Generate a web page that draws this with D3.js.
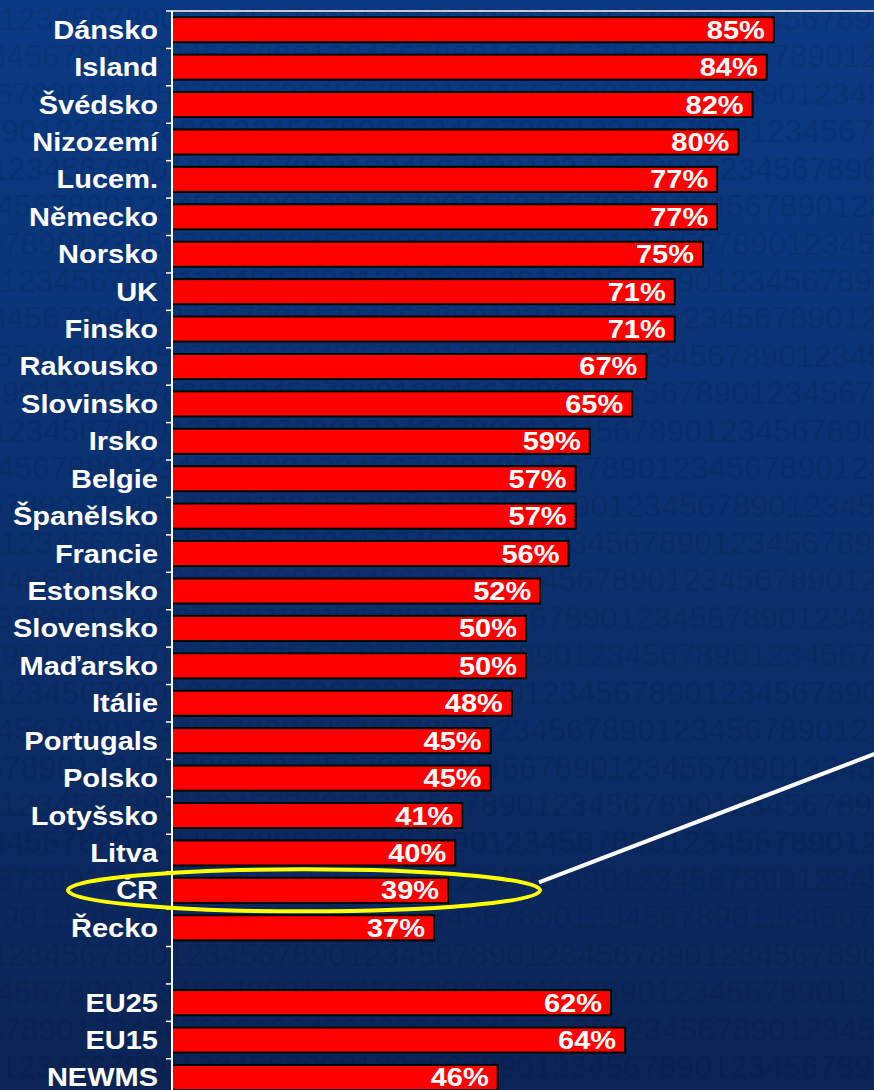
<!DOCTYPE html>
<html>
<head>
<meta charset="utf-8">
<script src="https://cdn.jsdelivr.net/npm/d3@7"></script>
<style>
  html, body { margin: 0; padding: 0; background: #0b2a66; }
  svg { display: block; }
</style>
</head>
<body>
<div id="chart"></div>
<script>
// data
const countries = ['Dánsko', 'Island', 'Švédsko', 'Nizozemí', 'Lucem.', 'Německo', 'Norsko', 'UK',
  'Finsko', 'Rakousko', 'Slovinsko', 'Irsko', 'Belgie', 'Španělsko', 'Francie', 'Estonsko',
  'Slovensko', 'Maďarsko', 'Itálie', 'Portugals', 'Polsko', 'Lotyšsko', 'Litva', 'ČR', 'Řecko'];
const countryValues = [85, 84, 82, 80, 77, 77, 75, 71, 71, 67, 65, 59, 57, 57, 56, 52, 50, 50, 48, 45, 45, 41, 40, 39, 37];
const groups = ['EU25', 'EU15', 'NEWMS'];
const groupValues = [62, 64, 46];
const highlighted = 'ČR';

const width = 874, height = 1090;
const margin = {top: 11, left: 172};
const rowStep = 37.42;
const stretch = 1.16; // the slide text is a bit wider than normal Arial

const rows = countries.concat(['']).concat(groups);
const data = countries.map((c, i) => ({name: c, value: countryValues[i]}))
  .concat(groups.map((g, i) => ({name: g, value: groupValues[i]})));

const svg = d3.select('#chart').append('svg')
  .attr('width', width)
  .attr('height', height);

// background gradient
const defs = svg.append('defs');
const grad = defs.append('linearGradient')
  .attr('id', 'bg')
  .attr('x1', 0).attr('y1', 0).attr('x2', 0).attr('y2', 1);
grad.append('stop').attr('offset', '0%').attr('stop-color', '#0a3a84');
grad.append('stop').attr('offset', '55%').attr('stop-color', '#0b2f6c');
grad.append('stop').attr('offset', '100%').attr('stop-color', '#0b2456');
svg.append('rect')
  .attr('width', width).attr('height', height)
  .attr('fill', 'url(#bg)');

// faint digit watermark, as a tiled pattern
const tileW = 178, tileRows = 7;
const pat = defs.append('pattern')
  .attr('id', 'digits')
  .attr('patternUnits', 'userSpaceOnUse')
  .attr('width', tileW)
  .attr('height', tileRows * rowStep)
  .attr('y', 2);
pat.selectAll('text')
  .data(d3.range(tileRows))
  .enter()
  .append('text')
    .attr('x', i => -((i * 47) % tileW))
    .attr('y', i => (i + 0.75) * rowStep)
    .attr('textLength', 2 * tileW)
    .attr('lengthAdjust', 'spacingAndGlyphs')
    .attr('font-family', 'Liberation Sans, Arial, sans-serif')
    .attr('font-size', 32)
    .attr('fill', '#000')
    .attr('fill-opacity', 0.09)
    .text('12345678901234567890');
svg.append('rect')
  .attr('width', width).attr('height', height)
  .attr('fill', 'url(#digits)');

const x = d3.scaleLinear()
  .domain([0, 100])
  .range([margin.left, margin.left + 708]);

const y = d3.scaleBand()
  .domain(rows.map((r, i) => i))
  .range([margin.top, margin.top + rows.length * rowStep])
  .paddingInner(0.33)
  .paddingOuter(0.165);

const rowIndex = name => rows.indexOf(name);

// top border line
svg.append('line')
  .attr('x1', margin.left).attr('x2', width)
  .attr('y1', margin.top).attr('y2', margin.top)
  .attr('stroke', '#c8c8c8')
  .attr('stroke-width', 2);

// bars
svg.append('g')
  .selectAll('rect')
  .data(data)
  .enter()
  .append('rect')
    .attr('x', x(0))
    .attr('y', d => y(rowIndex(d.name)))
    .attr('width', d => x(d.value) - x(0))
    .attr('height', y.bandwidth())
    .attr('fill', '#ff0000')
    .attr('stroke', '#000')
    .attr('stroke-width', 2);

// value labels
svg.append('g')
  .selectAll('text')
  .data(data)
  .enter()
  .append('text')
    .attr('transform', d => 'translate(' + (x(d.value) - 9) + ',' +
      (y(rowIndex(d.name)) + y.bandwidth() / 2) + ') scale(' + stretch + ',1)')
    .attr('dy', '0.36em')
    .attr('text-anchor', 'end')
    .attr('font-family', 'Liberation Sans, Arial, sans-serif')
    .attr('font-weight', 'bold')
    .attr('font-size', 25)
    .attr('fill', '#fff')
    .text(d => d.value + '%');

// category axis: white line, ticks at row boundaries
const axis = svg.append('g');
axis.append('line')
  .attr('x1', margin.left).attr('x2', margin.left)
  .attr('y1', margin.top).attr('y2', height)
  .attr('stroke', '#fff')
  .attr('stroke-width', 2);
axis.selectAll('.tick')
  .data(d3.range(rows.length + 1))
  .enter()
  .append('line')
    .attr('x1', margin.left - 6).attr('x2', margin.left)
    .attr('y1', i => margin.top + i * y.step())
    .attr('y2', i => margin.top + i * y.step())
    .attr('stroke', '#fff')
    .attr('stroke-width', 1.5);
axis.selectAll('text')
  .data(data)
  .enter()
  .append('text')
    .attr('transform', d => 'translate(' + (margin.left - 14) + ',' +
      (y(rowIndex(d.name)) + y.bandwidth() / 2) + ') scale(' + stretch + ',1)')
    .attr('dy', '0.36em')
    .attr('text-anchor', 'end')
    .attr('font-family', 'Liberation Sans, Arial, sans-serif')
    .attr('font-weight', 'bold')
    .attr('font-size', 25)
    .attr('fill', '#fff')
    .text(d => d.name);

// highlight around ČR and pointer line
const cy = y(rowIndex(highlighted)) + y.bandwidth() / 2;
svg.append('ellipse')
  .attr('cx', 304)
  .attr('cy', cy)
  .attr('rx', 236)
  .attr('ry', 21)
  .attr('fill', 'none')
  .attr('stroke', '#ffff00')
  .attr('stroke-width', 4);
svg.append('line')
  .attr('x1', 539).attr('y1', cy - 8)
  .attr('x2', width + 2).attr('y2', cy - 137)
  .attr('stroke', '#fff')
  .attr('stroke-width', 4);
</script>
</body>
</html>
